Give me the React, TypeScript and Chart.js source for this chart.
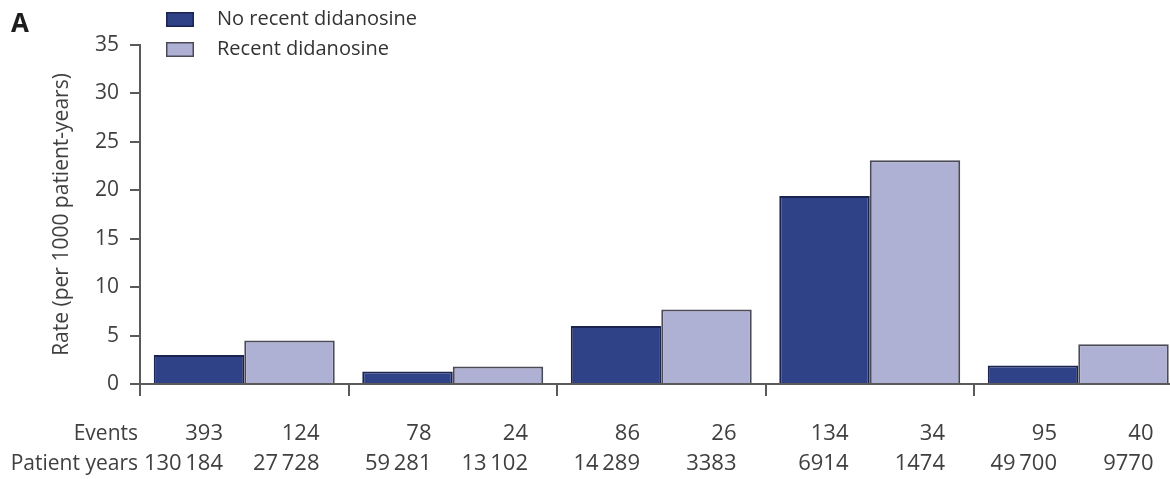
import React, { useEffect, useRef } from 'react';
import { Chart, registerables } from 'chart.js';

Chart.register(...registerables);

// ---- data ----
const groups = ['Group 1', 'Group 2', 'Group 3', 'Group 4', 'Group 5'];
const seriesNames = ['No recent didanosine', 'Recent didanosine'];
const noRecentRates = [3.0, 1.3, 6.0, 19.4, 1.9];
const recentRates = [4.5, 1.8, 7.7, 23.1, 4.1];
const rowLabels = ['Events', 'Patient years'];
const noRecentEvents = ['393', '78', '86', '134', '95'];
const recentEvents = ['124', '24', '26', '34', '40'];
const noRecentPatientYears = ['130\u2009184', '59\u2009281', '14\u2009289', '6914', '49\u2009700'];
const recentPatientYears = ['27\u2009728', '13\u2009102', '3383', '1474', '9770'];
const yTitle = 'Rate (per 1000 patient-years)';
const panelLetter = 'A';

// ---- style ----
const FONT = '"Open Sans", "Noto Sans", sans-serif';
const TEXT = '#404040';
const AXIS = '#5a5a5a';
const DARK_FILL = '#2f4288';
const DARK_BORDER = '#1b2350';
const LIGHT_FILL = '#aeb0d4';
const LIGHT_BORDER = '#4b4b58';

const annotationPlugin = {
  id: 'annotations',
  afterDraw(chart: any) {
    const ctx = chart.ctx as CanvasRenderingContext2D;
    const area = chart.chartArea;
    ctx.save();

    // panel letter
    ctx.fillStyle = '#1e1e1e';
    ctx.font = `bold 26px ${FONT}`;
    ctx.textAlign = 'left';
    ctx.textBaseline = 'middle';
    ctx.fillText(panelLetter, 11, 25);

    // legend
    chart.data.datasets.forEach((ds: any, i: number) => {
      const y = 12 + i * 30;
      ctx.fillStyle = ds.backgroundColor;
      ctx.fillRect(166, y, 28, 15);
      ctx.strokeStyle = ds.borderColor;
      ctx.lineWidth = 1.5;
      ctx.strokeRect(166.75, y + 0.75, 26.5, 13.5);
      ctx.fillStyle = '#333';
      ctx.font = `20px ${FONT}`;
      ctx.textAlign = 'left';
      ctx.textBaseline = 'middle';
      ctx.fillText(ds.label, 217, y + 7.5);
    });

    // table below axis
    const y1 = area.bottom + 50;
    const y2 = area.bottom + 80;
    ctx.fillStyle = TEXT;
    ctx.textAlign = 'right';
    ctx.textBaseline = 'middle';
    ctx.font = `21px ${FONT}`;
    ctx.fillText(rowLabels[0], area.left - 2, y1);
    ctx.fillText(rowLabels[1], area.left - 2, y2);
    ctx.font = `22px ${FONT}`;
    const m0 = chart.getDatasetMeta(0);
    const m1 = chart.getDatasetMeta(1);
    m0.data.forEach((bar: any, i: number) => {
      ctx.fillText(noRecentEvents[i], bar.x + 24, y1);
      ctx.fillText(noRecentPatientYears[i], bar.x + 24, y2);
    });
    m1.data.forEach((bar: any, i: number) => {
      ctx.fillText(recentEvents[i], bar.x + 30, y1);
      ctx.fillText(recentPatientYears[i], bar.x + 30, y2);
    });
    ctx.restore();
  },
};

export default function App() {
  const canvasRef = useRef<HTMLCanvasElement | null>(null);

  useEffect(() => {
    const canvas = canvasRef.current;
    if (!canvas) return;
    const chart = new Chart(canvas, {
      type: 'bar',
      data: {
        labels: groups,
        datasets: [
          {
            label: seriesNames[0],
            data: noRecentRates,
            backgroundColor: DARK_FILL,
            borderColor: DARK_BORDER,
            borderWidth: 2,
            borderSkipped: 'bottom',
            barPercentage: 1,
            categoryPercentage: 0.868,
          },
          {
            label: seriesNames[1],
            data: recentRates,
            backgroundColor: LIGHT_FILL,
            borderColor: LIGHT_BORDER,
            borderWidth: 2,
            borderSkipped: 'bottom',
            barPercentage: 1,
            categoryPercentage: 0.868,
          },
        ],
      },
      options: {
        responsive: false,
        animation: false,
        layout: { padding: { left: 0, top: 45, right: 17.5, bottom: 0 } },
        plugins: {
          legend: { display: false },
          tooltip: { enabled: false },
          title: { display: false },
        },
        scales: {
          x: {
            type: 'category',
            offset: true,
            grid: {
              offset: true,
              drawOnChartArea: false,
              drawTicks: true,
              tickLength: 12,
              color: AXIS,
              lineWidth: 2,
            },
            border: { display: true, color: AXIS, width: 2 },
            ticks: { display: false },
            afterFit: (scale: any) => {
              scale.height = 95;
            },
          },
          y: {
            min: 0,
            max: 35,
            ticks: {
              stepSize: 5,
              color: TEXT,
              font: { family: FONT, size: 21 },
              padding: 11,
            },
            grid: {
              drawOnChartArea: false,
              drawTicks: true,
              tickLength: 10,
              color: AXIS,
              lineWidth: 2,
            },
            border: { display: true, color: AXIS, width: 2 },
            title: {
              display: true,
              text: yTitle,
              color: TEXT,
              font: { family: FONT, size: 21 },
              padding: { top: 49, bottom: 0 },
            },
            afterFit: (scale: any) => {
              scale.width = 140;
            },
          },
        },
      },
      plugins: [annotationPlugin],
    });
    return () => chart.destroy();
  }, []);

  return (
    <div
      style={{
        position: 'absolute',
        left: 0,
        top: 0,
        width: 1170,
        height: 479,
        overflow: 'hidden',
        background: '#fff',
      }}
    >
      <canvas ref={canvasRef} width={1200} height={479} style={{ display: 'block' }} />
    </div>
  );
}
